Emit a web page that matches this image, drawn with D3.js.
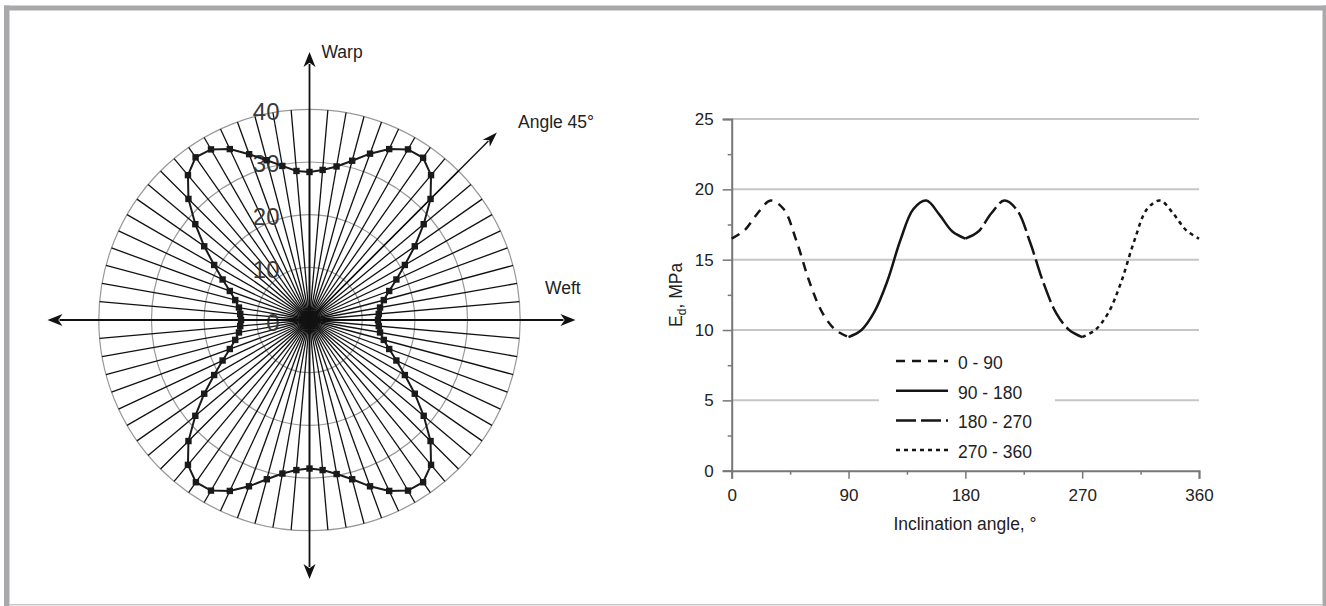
<!DOCTYPE html>
<html>
<head>
<meta charset="utf-8">
<script src="https://cdn.jsdelivr.net/npm/d3@7"></script>
<style>
  body { margin: 0; background: #fff; }
  svg { display: block; font-family: "Liberation Sans", Arial, sans-serif; }
</style>
</head>
<body>
<div id="chart"></div>
<script>
// ---- polar chart data (value every 5 degrees, counter-clockwise from weft) ----
var polarAngles = d3.range(0, 360, 5);
var polarValues = [
  13.0, 13.2, 13.6, 14.6, 16.1, 18.2, 20.9, 24.4, 28.3, 32.5, 35.9, 37.6, 37.4, 35.8, 33.6, 31.3, 29.6, 28.6,
  28.1, 28.4, 29.7, 31.4, 33.5, 35.8, 37.4, 37.7, 35.9, 32.5, 28.3, 24.4, 20.9, 18.2, 16.1, 14.6, 13.6, 13.2,
  13.0, 13.2, 13.6, 14.6, 16.1, 18.2, 20.9, 24.4, 28.3, 32.5, 35.9, 37.6, 37.4, 35.8, 33.6, 31.3, 29.6, 28.6,
  28.2, 28.6, 29.7, 31.3, 33.6, 35.8, 37.4, 37.6, 35.9, 32.5, 28.3, 24.4, 20.9, 18.2, 16.1, 14.6, 13.6, 13.2
];
var ringTicks = [0, 10, 20, 30, 40];

// ---- line chart data ----
var seriesNames = ["0 - 90", "90 - 180", "180 - 270", "270 - 360"];
var angles1 = [0, 10, 20, 30, 40, 50, 60, 70, 80, 90];
var angles2 = [90, 100, 110, 120, 130, 140, 150, 160, 170, 180];
var angles3 = [180, 190, 200, 210, 220, 230, 240, 250, 260, 270];
var angles4 = [270, 280, 290, 300, 310, 320, 330, 340, 350, 360];
var values1 = [16.5, 17.1, 18.3, 19.2, 18.6, 16.3, 13.4, 11.2, 10.0, 9.5];
var values2 = [9.5, 10.0, 11.3, 13.5, 16.4, 18.6, 19.2, 18.2, 17.0, 16.5];
var values3 = [16.5, 17.0, 18.3, 19.2, 18.5, 16.2, 13.4, 11.2, 10.0, 9.5];
var values4 = [9.5, 10.0, 11.2, 13.4, 16.3, 18.6, 19.2, 18.3, 17.1, 16.5];
var xTicks = [0, 90, 180, 270, 360];
var yTicks = [0, 5, 10, 15, 20, 25];
var dashes = ["9,7", null, "20,5", "4,4"];

var W = 1326, H = 606;
var svg = d3.select("#chart").append("svg")
    .attr("width", W)
    .attr("height", H);

// frame
svg.append("rect").attr("width", W).attr("height", H).attr("fill", "#fff");
svg.append("rect").attr("x", 4).attr("y", 5.5).attr("width", 1322).attr("height", 5).attr("fill", "#a9a9ab");
svg.append("rect").attr("x", 4).attr("y", 5.5).attr("width", 5.5).attr("height", 601).attr("fill", "#a9a9ab");
svg.append("rect").attr("x", 1322.5).attr("y", 5.5).attr("width", 3.5).attr("height", 601).attr("fill", "#a9a9ab");
svg.append("rect").attr("x", 9).attr("y", 604).attr("width", 1314).attr("height", 1.5).attr("fill", "#c8c8c8");

// ================= polar chart =================
var cx = 309.5, cy = 320;
var r = d3.scaleLinear().domain([0, 40]).range([0, 210.7]);
var rad = function(deg) { return deg * Math.PI / 180; };

var polar = svg.append("g").attr("transform", "translate(" + cx + "," + cy + ")");

// rings
polar.selectAll(".ring")
    .data(ringTicks.filter(function(d) { return d > 0; }))
  .enter().append("circle")
    .attr("class", "ring")
    .attr("r", function(d) { return r(d); })
    .attr("fill", "none")
    .attr("stroke", "#999")
    .attr("stroke-width", 1.2);

// spokes
polar.selectAll(".spoke")
    .data(polarAngles)
  .enter().append("line")
    .attr("class", "spoke")
    .attr("x1", 0).attr("y1", 0)
    .attr("x2", function(d) { return r(40) * Math.cos(rad(d)); })
    .attr("y2", function(d) { return -r(40) * Math.sin(rad(d)); })
    .attr("stroke", "#111")
    .attr("stroke-width", 1.3);

// dark hub where the spokes meet
polar.append("circle").attr("r", 9).attr("fill", "#111");

// ring labels
polar.selectAll(".rlabel")
    .data(ringTicks)
  .enter().append("text")
    .attr("class", "rlabel")
    .attr("x", -30)
    .attr("y", function(d) { return -r(d) + 2; })
    .attr("text-anchor", "end")
    .attr("dominant-baseline", "central")
    .attr("font-size", 24)
    .attr("fill", "#3a3a3a")
    .text(function(d) { return d; });

// arrows
function arrow(g, len, deg, width, headLen, headHalf) {
  var a = rad(deg);
  var tx = len * Math.cos(a), ty = -len * Math.sin(a);
  g.append("line")
      .attr("x1", 0).attr("y1", 0)
      .attr("x2", tx - (headLen - 3) * Math.cos(a)).attr("y2", ty + (headLen - 3) * Math.sin(a))
      .attr("stroke", "#111").attr("stroke-width", width);
  g.append("path")
      .attr("d", "M0,0L" + (-headLen) + "," + headHalf + "L" + (-headLen * 0.72) + ",0L" + (-headLen) + "," + (-headHalf) + "Z")
      .attr("transform", "translate(" + tx + "," + ty + ") rotate(" + (-deg) + ")")
      .attr("fill", "#111");
}
arrow(polar, 266, 0, 1.8, 15, 6);
arrow(polar, 262, 180, 1.8, 15, 6);
arrow(polar, 268, 90, 1.8, 15, 6);
arrow(polar, 259, 270, 1.8, 15, 6);
arrow(polar, 265, 45, 1.4, 15, 5);

// data curve
var pts = polarAngles.map(function(a, i) { return {angle: a, value: polarValues[i]}; });
var radial = d3.lineRadial()
    .angle(function(d) { return rad(90 - d.angle); })
    .radius(function(d) { return r(d.value); })
    .curve(d3.curveLinearClosed);

polar.append("path")
    .datum(pts)
    .attr("d", radial)
    .attr("fill", "none")
    .attr("stroke", "#1a1a1a")
    .attr("stroke-width", 2);

polar.selectAll(".mark")
    .data(pts)
  .enter().append("rect")
    .attr("class", "mark")
    .attr("x", function(d) { return r(d.value) * Math.cos(rad(d.angle)) - 3.2; })
    .attr("y", function(d) { return -r(d.value) * Math.sin(rad(d.angle)) - 3.2; })
    .attr("width", 6.4).attr("height", 6.4)
    .attr("fill", "#1a1a1a");

// polar labels
svg.append("text").attr("x", 321.5).attr("y", 58).attr("font-size", 17.5).attr("fill", "#222").text("Warp");
svg.append("text").attr("x", 545).attr("y", 294).attr("font-size", 17.5).attr("fill", "#222").text("Weft");
svg.append("text").attr("x", 518).attr("y", 128).attr("font-size", 17.5).attr("fill", "#222").text("Angle 45°");

// ================= line chart =================
var x = d3.scaleLinear().domain([0, 360]).range([731.7, 1199]);
var y = d3.scaleLinear().domain([0, 25]).range([470.7, 119]);

var chart = svg.append("g");

// gridlines
chart.selectAll(".grid")
    .data(yTicks.filter(function(d) { return d > 0; }))
  .enter().append("line")
    .attr("class", "grid")
    .attr("x1", x(0)).attr("x2", x(360))
    .attr("y1", function(d) { return y(d); })
    .attr("y2", function(d) { return y(d); })
    .attr("stroke", "#c6c6c6")
    .attr("stroke-width", 2);

// axes
var yAxis = chart.append("g")
    .attr("transform", "translate(" + x(0) + ",0)")
    .call(d3.axisLeft(y).tickValues(yTicks).tickSize(9).tickPadding(9));
var yMinor = chart.append("g")
    .attr("transform", "translate(" + x(0) + ",0)")
    .call(d3.axisLeft(y).tickValues([2.5, 7.5, 12.5, 17.5, 22.5]).tickSize(4).tickFormat(""));
var xAxis = chart.append("g")
    .attr("transform", "translate(0," + y(0) + ")")
    .call(d3.axisBottom(x).tickValues(xTicks).tickSize(8).tickPadding(10));
var xMinor = chart.append("g")
    .attr("transform", "translate(0," + y(0) + ")")
    .call(d3.axisBottom(x).tickValues([45, 135, 225, 315]).tickSize(4).tickFormat(""));

[yAxis, yMinor, xAxis, xMinor].forEach(function(a) {
  a.select(".domain").attr("stroke", "#777").attr("stroke-width", 2);
  a.selectAll(".tick line").attr("stroke", "#777").attr("stroke-width", 1.5);
  a.selectAll(".tick text").attr("font-size", 17).attr("fill", "#222")
      .attr("font-family", "Liberation Sans, Arial, sans-serif");
});
yMinor.select(".domain").remove();
xMinor.select(".domain").remove();

// axis titles
chart.append("text")
    .attr("x", 965).attr("y", 530)
    .attr("text-anchor", "middle")
    .attr("font-size", 17.5).attr("fill", "#222")
    .text("Inclination angle, °");

var yt = chart.append("text")
    .attr("transform", "translate(682," + y(12.5) + ") rotate(-90)")
    .attr("text-anchor", "middle")
    .attr("font-size", 17.5).attr("fill", "#222");
yt.append("tspan").text("E");
yt.append("tspan").attr("font-size", 12).attr("dy", 4).text("d");
yt.append("tspan").attr("dy", -4).text(", MPa");

// legend background covers gridline
chart.append("rect")
    .attr("x", 879).attr("y", 345).attr("width", 176).attr("height", 120)
    .attr("fill", "#fff");

// curves
var allAngles = [angles1, angles2, angles3, angles4];
var allValues = [values1, values2, values3, values4];
var line = d3.line()
    .x(function(d) { return x(d[0]); })
    .y(function(d) { return y(d[1]); })
    .curve(d3.curveCatmullRom.alpha(0.5));

allValues.forEach(function(vals, i) {
  var data = vals.map(function(v, j) { return [allAngles[i][j], v]; });
  chart.append("path")
      .datum(data)
      .attr("d", line)
      .attr("fill", "none")
      .attr("stroke", "#151515")
      .attr("stroke-width", 2.5)
      .attr("stroke-dasharray", dashes[i]);
});

// legend
var legend = chart.selectAll(".legend")
    .data(seriesNames)
  .enter().append("g")
    .attr("class", "legend")
    .attr("transform", function(d, i) { return "translate(896," + (363 + i * 29.7) + ")"; });

legend.append("line")
    .attr("x1", 0).attr("x2", 52)
    .attr("y1", -2).attr("y2", -2)
    .attr("stroke", "#151515")
    .attr("stroke-width", 2.5)
    .attr("stroke-dasharray", function(d, i) { return dashes[i]; });

legend.append("text")
    .attr("x", 62)
    .attr("dominant-baseline", "central")
    .attr("font-size", 17.5).attr("fill", "#222")
    .text(function(d) { return d; });
</script>
</body>
</html>
